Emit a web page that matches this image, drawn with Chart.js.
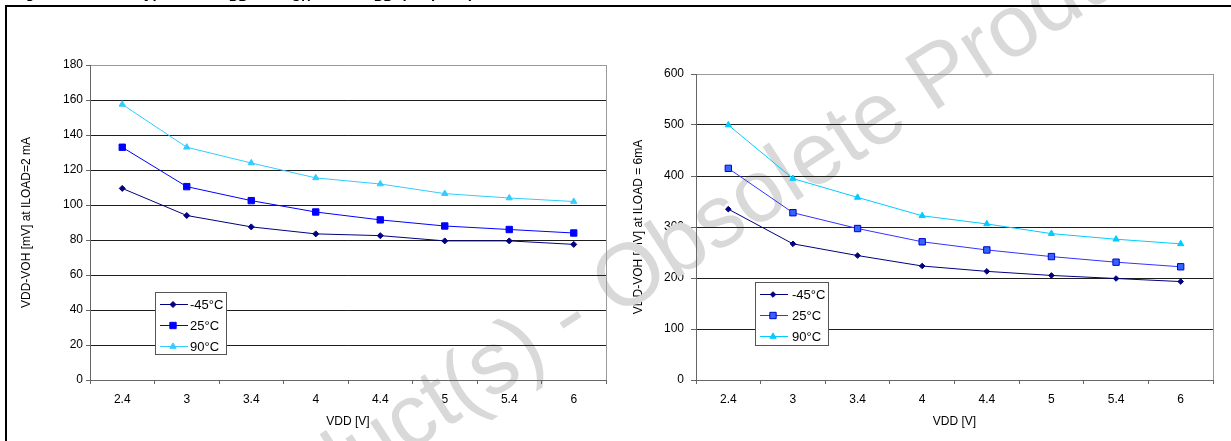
<!DOCTYPE html>
<html>
<head>
<meta charset="utf-8">
<script src="https://cdn.jsdelivr.net/npm/chart.js@4.4.0/dist/chart.umd.min.js"></script>
<style>
html,body{margin:0;padding:0;background:#fff;width:1231px;height:441px;overflow:hidden;}
body{position:relative;font-family:"Liberation Sans",Arial,Helvetica,sans-serif;}
canvas{position:absolute;top:0;z-index:1;}
#cL{left:0;}
#cR{left:620px;}
.fr{position:absolute;background:#000;z-index:3;}
#ttl{position:absolute;left:0;top:-16px;height:17px;width:1231px;z-index:3;font-weight:bold;font-size:15px;line-height:17px;white-space:nowrap;color:#000;}
#ttl span{position:absolute;top:0;}
#ttl sub{font-size:13px;vertical-align:-3px;line-height:0;}
</style>
</head>
<body>
<div id="ttl"><span style="left:12px">Figure 65.</span><span style="left:136px">Typical</span><span style="left:219px">V<sub>DD</sub></span><span style="left:262px">-</span><span style="left:281px">V<sub>OH</sub></span><span style="left:330px">vs</span><span style="left:364px">V<sub>DD</sub></span><span style="left:401px">(HS ports)</span></div>
<div class="fr" style="left:5px;top:5px;width:1226px;height:2px;"></div>
<div class="fr" style="left:5px;top:5px;width:2px;height:436px;"></div>
<canvas id="cL" width="620" height="441"></canvas>
<canvas id="cR" width="611" height="441"></canvas>
<script>
// ---------- data ----------
const categories = ['2.4', '3', '3.4', '4', '4.4', '5', '5.4', '6'];
const seriesLabels = ['-45°C', '25°C', '90°C'];
// VDD-VOH [mV] at ILOAD = 2 mA
const load2mA_m45 = [109.5, 94, 87.5, 83.5, 82.5, 79.5, 79.5, 77.5];
const load2mA_25  = [133, 110.5, 102.5, 96, 91.5, 88, 86, 84];
const load2mA_90  = [157.5, 133, 124, 115.5, 112, 106.5, 104, 102];
// VDD-VOH [mV] at ILOAD = 6 mA
const load6mA_m45 = [335, 267, 244, 223.5, 213, 205, 199, 193];
const load6mA_25  = [415, 328, 297, 271, 255, 242, 231, 222];
const load6mA_90  = [500, 395, 358, 322, 306, 287, 276, 267];
// axis ranges / titles
const yRange2mA = [0, 180, 20];
const yRange6mA = [0, 600, 100];
const xTitle = 'VDD [V]';
const yTitle2mA = 'VDD-VOH [mV] at ILOAD=2 mA';
const yTitle6mA = 'VDD-VOH [mV] at ILOAD = 6mA';
const watermarkText = 'Obsolete Product(s) - Obsolete Product(s)';

// ---------- style ----------
const FONT = '"Liberation Sans", Arial, Helvetica, sans-serif';
Chart.defaults.font.family = FONT;
Chart.defaults.font.size = 12;
Chart.defaults.color = '#000';
Chart.defaults.animation = false;

const AXIS = '#666666';
const GRID = '#1e1e1e';
const FRAME = '#9a9a9a';
const WM = {cx: 570, cy: 319, angle: -33, size: 88, color: '#d9d9d9'};

function markerPath(ctx, style, r, x, y) {
  ctx.beginPath();
  if (style === 'rectRot') {
    ctx.moveTo(x - r, y); ctx.lineTo(x, y - r); ctx.lineTo(x + r, y); ctx.lineTo(x, y + r);
  } else if (style === 'rect') {
    const s = Math.SQRT1_2 * r;
    ctx.rect(x - s, y - s, 2 * s, 2 * s);
  } else if (style === 'triangle') {
    for (let k = 0; k < 3; k++) {
      const a = k * 2 * Math.PI / 3;
      const px = x + Math.sin(a) * r, py = y - Math.cos(a) * r;
      if (k === 0) ctx.moveTo(px, py); else ctx.lineTo(px, py);
    }
  }
  ctx.closePath();
}

const decor = {
  id: 'decor',
  beforeDatasetsDraw(chart, args, o) {
    const ctx = chart.ctx, ca = chart.chartArea;
    // watermark (over labels/titles, under lines)
    ctx.save();
    ctx.translate(WM.cx - o.offX, WM.cy - o.offY);
    ctx.rotate(WM.angle * Math.PI / 180);
    ctx.font = WM.size + 'px ' + FONT;
    ctx.fillStyle = WM.color;
    ctx.textAlign = 'center';
    ctx.textBaseline = 'middle';
    ctx.fillText(watermarkText, 0, 0);
    ctx.restore();
    // redraw lines on top of watermark
    Object.values(chart.scales).forEach(s => s.drawGrid(ca));
    ctx.save();
    ctx.strokeStyle = FRAME; ctx.lineWidth = 1;
    const xr = Math.round(ca.right - 0.5) + 0.5;
    ctx.beginPath(); ctx.moveTo(xr, ca.top); ctx.lineTo(xr, ca.bottom); ctx.stroke();
    ctx.restore();
    Object.values(chart.scales).forEach(s => s.drawBorder());
  },
  afterDatasetsDraw(chart, args, o) {
    const L = o.legend, ctx = chart.ctx;
    ctx.save();
    ctx.fillStyle = '#fff';
    ctx.fillRect(L.x, L.y, L.w, L.h);
    ctx.strokeStyle = '#555'; ctx.lineWidth = 1;
    ctx.strokeRect(L.x + 0.5, L.y + 0.5, L.w - 1, L.h - 1);
    ctx.font = L.font + 'px ' + FONT;
    ctx.textBaseline = 'middle'; ctx.textAlign = 'left';
    chart.data.datasets.forEach((ds, i) => {
      const y = Math.round(L.y + L.row0 + i * L.rowH) + 0.5;
      ctx.strokeStyle = ds.borderColor; ctx.lineWidth = 1;
      ctx.beginPath(); ctx.moveTo(L.x + L.l0, y); ctx.lineTo(L.x + L.l1, y); ctx.stroke();
      ctx.fillStyle = ds.pointBackgroundColor; ctx.strokeStyle = ds.pointBorderColor;
      markerPath(ctx, ds.pointStyle, ds.pointRadius, L.x + L.mx, y);
      ctx.fill(); ctx.stroke();
      ctx.fillStyle = '#000';
      ctx.fillText(ds.label, L.x + L.tx, y + 0.5);
    });
    ctx.restore();
  }
};

function ds(label, data, line, fill, border, style, r) {
  return {label, data, borderColor: line, backgroundColor: fill, borderWidth: 1, tension: 0,
    pointStyle: style, pointRadius: r, pointHoverRadius: r, pointBackgroundColor: fill,
    pointBorderColor: border, pointBorderWidth: 1};
}

function makeChart(id, o) {
  return new Chart(document.getElementById(id), {
    type: 'line',
    data: { labels: categories, datasets: o.datasets },
    plugins: [decor],
    options: {
      responsive: false, animation: false,
      layout: { padding: { top: o.padTop, right: o.padRight, left: 0, bottom: 0 } },
      plugins: {
        legend: { display: false }, tooltip: { enabled: false },
        decor: { offX: o.offX, offY: 0, legend: o.legend }
      },
      scales: {
        x: {
          type: 'category', offset: true,
          grid: { offset: true, drawOnChartArea: false, drawTicks: true, tickLength: 4, tickColor: AXIS, color: AXIS },
          border: { display: true, color: AXIS, width: 1 },
          ticks: { padding: 8, maxRotation: 0, autoSkip: false, font: { size: 12 }, color: '#000' },
          title: { display: true, text: xTitle, font: { size: 12 }, color: '#000', padding: { top: 0, bottom: 12 } },
          afterFit(s) { s.height = 61; }
        },
        y: {
          type: 'linear', min: o.yr[0], max: o.yr[1],
          grid: { color: c => (c.tick && c.tick.value === o.yr[1]) ? FRAME : GRID, lineWidth: 1,
                  drawTicks: true, tickLength: o.yTick, tickColor: AXIS },
          border: { display: true, color: AXIS, width: 1 },
          ticks: { stepSize: o.yr[2], padding: o.yPad, font: { size: 12 }, color: '#000' },
          title: { display: true, text: o.yTitle, font: { size: 12 }, color: '#000', padding: { top: o.yTitlePad, bottom: 0 } },
          afterFit(s) { s.width = o.yW; }
        }
      }
    }
  });
}

makeChart('cL', {
  offX: 0, padTop: 65, padRight: 14, yW: 90, yTick: 4, yPad: 3, yTitlePad: 19,
  yr: yRange2mA, yTitle: yTitle2mA,
  legend: { x: 155, y: 292, w: 72, h: 63, row0: 11.5, rowH: 21, l0: 5, l1: 33, mx: 18, tx: 35, font: 13 },
  datasets: [
    ds(seriesLabels[0], load2mA_m45, '#000080', '#000080', '#000080', 'rectRot', 3),
    ds(seriesLabels[1], load2mA_25, '#0000ff', '#0000ff', '#0000ff', 'rect', 4.5),
    ds(seriesLabels[2], load2mA_90, '#33ccff', '#33ccff', '#33ccff', 'triangle', 3.6)
  ]
});

makeChart('cR', {
  offX: 620, padTop: 74, padRight: 18, yW: 76, yTick: 5, yPad: 7, yTitlePad: 11,
  yr: yRange6mA, yTitle: yTitle6mA,
  legend: { x: 135, y: 282, w: 74, h: 64, row0: 11.5, rowH: 21.3, l0: 5, l1: 33, mx: 18, tx: 37, font: 13 },
  datasets: [
    ds(seriesLabels[0], load6mA_m45, '#000080', '#000080', '#000080', 'rectRot', 2.8),
    ds(seriesLabels[1], load6mA_25, '#3333ff', '#3366ff', '#0000cc', 'rect', 4.5),
    ds(seriesLabels[2], load6mA_90, '#00ccff', '#00ccff', '#00ccff', 'triangle', 3.6)
  ]
});
</script>
</body>
</html>
